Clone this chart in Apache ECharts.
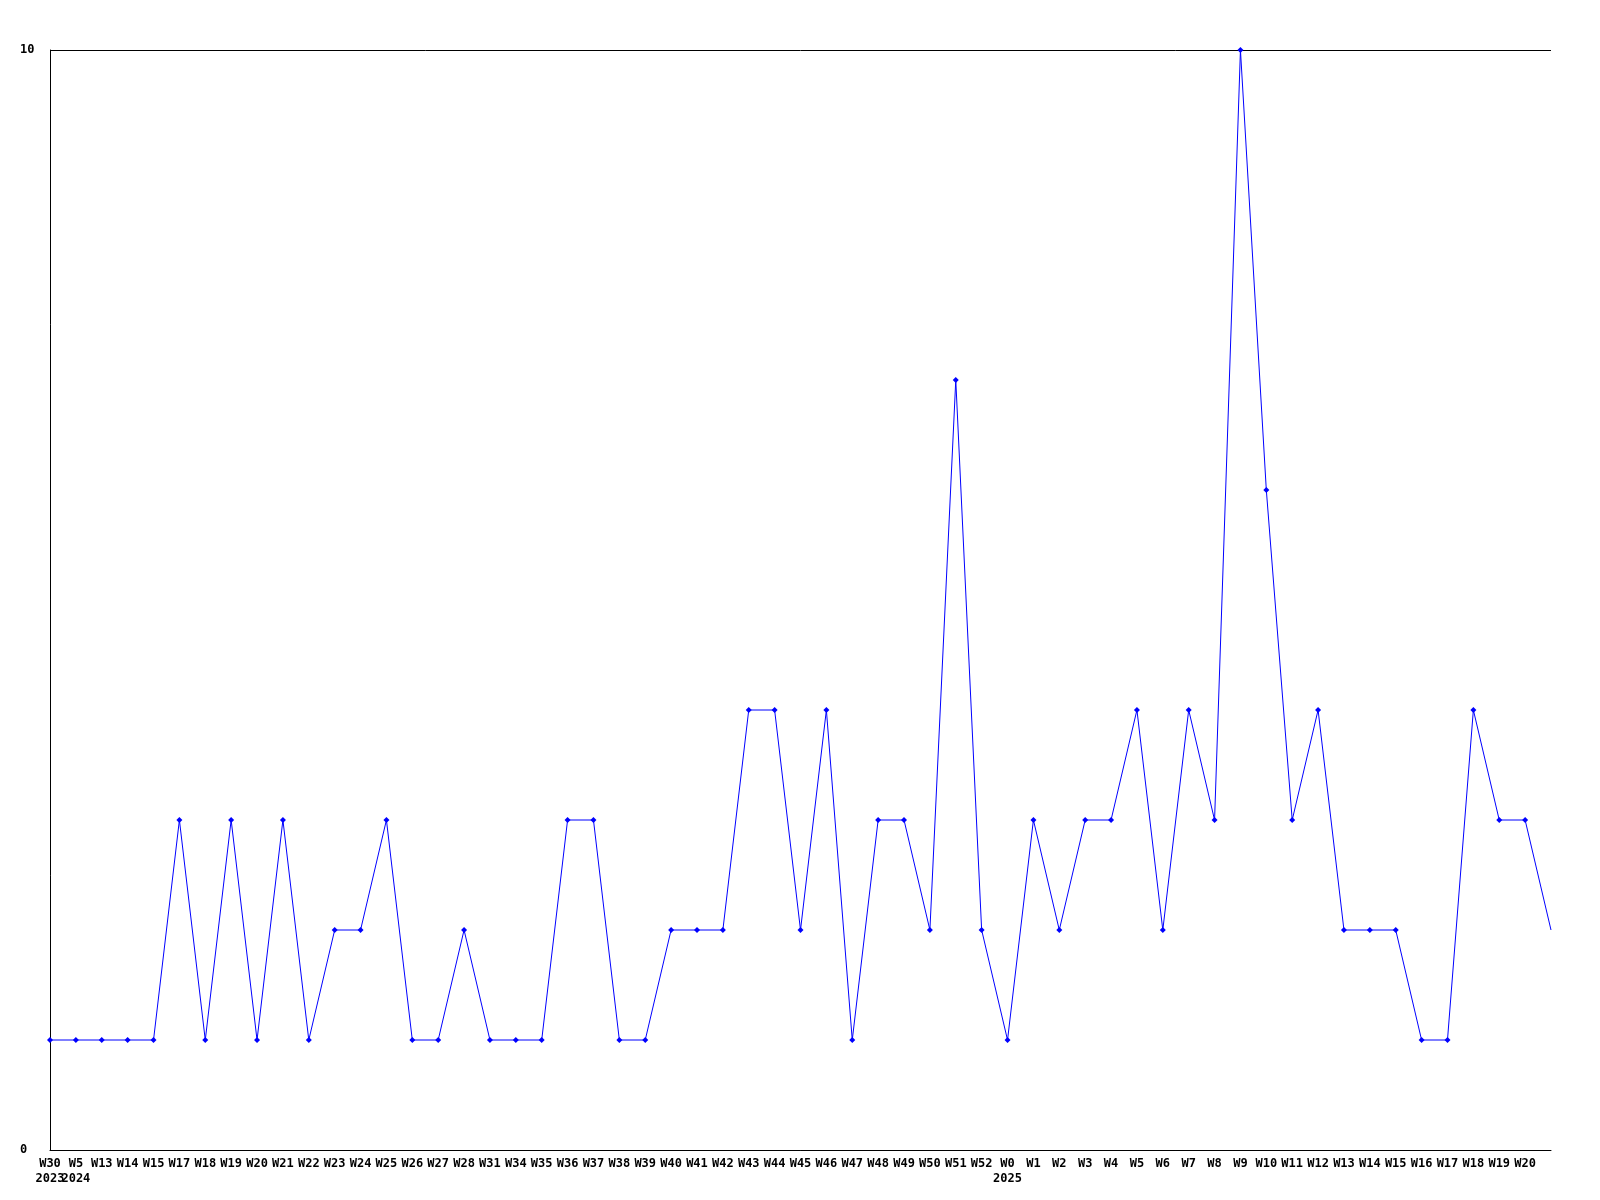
<!DOCTYPE html>
<html>
<head>
<meta charset="utf-8">
<script src="https://cdn.jsdelivr.net/npm/echarts@6/dist/echarts.min.js"></script>
<style>html,body{margin:0;padding:0;background:#fff}#c{width:1600px;height:1200px}</style>
</head>
<body>
<div id="c"></div>
<script>
const categories = ['W30','W5','W13','W14','W15','W17','W18','W19','W20','W21','W22','W23','W24','W25','W26','W27','W28','W31','W34','W35','W36','W37','W38','W39','W40','W41','W42','W43','W44','W45','W46','W47','W48','W49','W50','W51','W52','W0','W1','W2','W3','W4','W5','W6','W7','W8','W9','W10','W11','W12','W13','W14','W15','W16','W17','W18','W19','W20','W21'];
const values = [1,1,1,1,1,3,1,3,1,3,1,2,2,3,1,1,2,1,1,1,3,3,1,1,2,2,2,4,4,2,4,1,3,3,2,7,2,1,3,2,3,3,4,2,4,3,10,6,3,4,2,2,2,1,1,4,3,3,2];
const yearMarks = [[0,'2023'],[1,'2024'],[37,'2025']];
const yTicks = [0, 10];

const yearAt = {};
yearMarks.forEach(([i, y]) => { yearAt[i] = y; });
const lastIdx = categories.length - 1;

const chart = echarts.init(document.getElementById('c'));
const font = '"DejaVu Sans Mono", monospace';
chart.setOption({
  animation: false,
  backgroundColor: '#ffffff',
  grid: { left: 50, right: 49, top: 50, bottom: 50, containLabel: false },
  xAxis: {
    type: 'category',
    data: categories,
    boundaryGap: false,
    axisLine: { lineStyle: { color: '#000', width: 1 } },
    axisTick: { show: false },
    axisLabel: {
      interval: 0,
      margin: 6,
      color: '#000',
      fontFamily: font,
      fontWeight: 'bold',
      fontSize: 12,
      lineHeight: 15,
      formatter: (v, i) => i === lastIdx ? '' : (yearAt[i] ? v + '\n' + yearAt[i] : v)
    },
    splitLine: { show: false }
  },
  yAxis: {
    type: 'value',
    min: yTicks[0],
    max: yTicks[1],
    interval: yTicks[1] - yTicks[0],
    axisLine: { show: true, lineStyle: { color: '#000', width: 1 } },
    axisTick: { show: false },
    axisLabel: {
      margin: 30,
      align: 'left',
      color: '#000',
      fontFamily: font,
      fontWeight: 'bold',
      fontSize: 12
    },
    splitLine: { show: true, lineStyle: { color: '#000', width: 1 } }
  },
  series: [{
    type: 'line',
    data: values.map((v, i) => i === lastIdx ? { value: v, symbolSize: 0 } : v),
    symbol: 'diamond',
    symbolSize: 6,
    showAllSymbol: true,
    itemStyle: { color: '#0000ff' },
    lineStyle: { color: '#0000ff', width: 1 },
    clip: true
  }]
});
</script>
</body>
</html>
